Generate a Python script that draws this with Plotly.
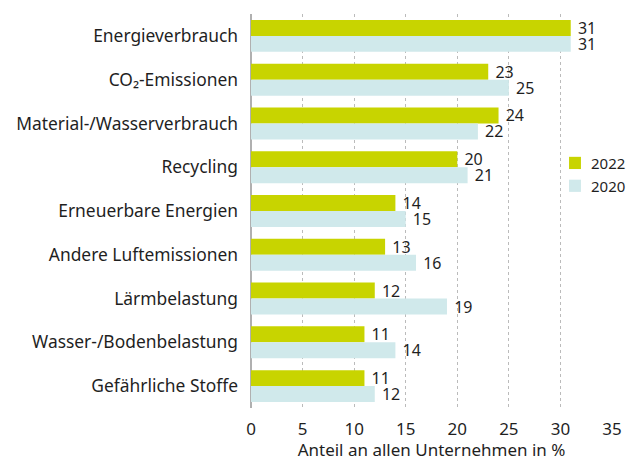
import plotly.graph_objects as go

categories = [
    "Energieverbrauch",
    "CO₂-Emissionen",
    "Material-/Wasserverbrauch",
    "Recycling",
    "Erneuerbare Energien",
    "Andere Luftemissionen",
    "Lärmbelastung",
    "Wasser-/Bodenbelastung",
    "Gefährliche Stoffe",
]
values_2022 = [31, 23, 24, 20, 14, 13, 12, 11, 11]
values_2020 = [31, 25, 22, 21, 15, 16, 19, 14, 12]
x_ticks = [0, 5, 10, 15, 20, 25, 30, 35]
series = [("2022", values_2022, "#c8d400"), ("2020", values_2020, "#d0e9eb")]

FONT = "Noto Sans, Open Sans, DejaVu Sans, sans-serif"
TEXT_COLOR = "#1f1f1f"

fig = go.Figure()
for name, vals, color in series:
    fig.add_trace(go.Bar(
        name=name, y=categories, x=vals, orientation="h",
        marker=dict(color=color, line=dict(width=0)),
        text=["\u00a0" + str(v) for v in vals], textposition="outside",
        constraintext="none",
        textfont=dict(size=16, color=TEXT_COLOR, family=FONT), cliponaxis=False,
        showlegend=False,
    ))

# compact legend: small square swatch followed by the year
legend_rows = [(0.622, series[0]), (0.564, series[1])]
for yc, (name, _, color) in legend_rows:
    fig.add_shape(type="rect", xref="paper", yref="paper",
                  x0=0.881, x1=0.914, y0=yc - 0.0155, y1=yc + 0.0155,
                  fillcolor=color, line=dict(width=0), layer="above")
    fig.add_annotation(xref="paper", yref="paper", x=0.937, y=yc,
                       xanchor="left", yanchor="middle", showarrow=False,
                       text=name, font=dict(size=15, color=TEXT_COLOR, family=FONT))

fig.update_layout(
    width=636, height=461,
    margin=dict(l=251, r=24, t=14, b=53, autoexpand=False),
    barmode="group", bargap=0.27, bargroupgap=0,
    plot_bgcolor="white", paper_bgcolor="white",
    font=dict(family=FONT, size=17, color=TEXT_COLOR),
    showlegend=False,
    xaxis=dict(
        range=[0, 35], tickvals=x_ticks, ticktext=[str(t) for t in x_ticks],
        showgrid=True, gridcolor="#bbbbbb", griddash="dot", gridwidth=1,
        zeroline=True, zerolinecolor="#b0b0b0", zerolinewidth=2,
        showline=False, ticks="", tickfont=dict(size=17),
        ticklabelstandoff=9,
        title=dict(text="Anteil an allen Unternehmen in %", font=dict(size=17), standoff=6),
    ),
    yaxis=dict(
        autorange="reversed", showgrid=False, showline=False, ticks="",
        tickfont=dict(size=17.4), ticklabelstandoff=12,
    ),
)

fig.write_html("out.html")
